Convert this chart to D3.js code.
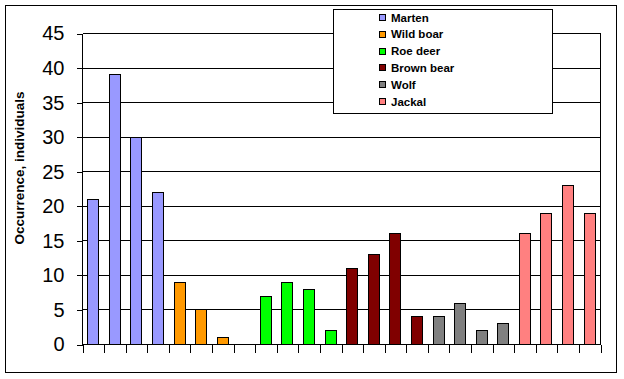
<!DOCTYPE html>
<html><head><meta charset="utf-8">
<script src="https://cdn.jsdelivr.net/npm/d3@7"></script>
<style>
html,body{margin:0;padding:0;background:#fff;}
svg{display:block;font-family:Arial,"Liberation Sans",sans-serif;}
</style></head>
<body>
<svg id="chart" width="624" height="379"></svg>
<script>
const species = ["Marten","Wild boar","Roe deer","Brown bear","Wolf","Jackal"];
const colors = ["#9999FF","#FF9900","#00FF00","#800000","#808080","#FF8080"];
const marten = [21,39,30,22];
const wildBoar = [9,5,1,null];
const roeDeer = [7,9,8,2];
const brownBear = [11,13,16,4];
const wolf = [4,6,2,3];
const jackal = [16,19,23,19];
const yTicks = [0,5,10,15,20,25,30,35,40,45];
const yTitle = "Occurrence, individuals";

const seriesValues = [marten,wildBoar,roeDeer,brownBear,wolf,jackal];
const slots = [];
seriesValues.forEach((vals,si)=>vals.forEach((v,j)=>slots.push({id:si*4+j, s:si, v:v})));

const svg = d3.select("#chart");
const L=82, R=600, T=33, B=344;

// outer border
svg.append("rect").attr("x",5.5).attr("y",5.5).attr("width",611).attr("height",367)
  .attr("fill","#fff").attr("stroke","#000").attr("stroke-width",1);

const x = d3.scaleBand().domain(slots.map(d=>d.id)).range([L,R]).padding(0);
const xb = d3.scaleLinear().domain([0,slots.length]).range([L,R]);
const y = d3.scaleLinear().domain([0,45]).range([B,T]);

const g = svg.append("g").attr("transform","translate(0.5,0.5)").attr("shape-rendering","crispEdges");

// gridlines
g.append("g").selectAll("line").data(yTicks.filter(t=>t>0)).join("line")
  .attr("x1",L).attr("x2",R).attr("y1",d=>Math.round(y(d))).attr("y2",d=>Math.round(y(d)))
  .attr("stroke","#000");
// right border of plot
g.append("line").attr("x1",R).attr("x2",R).attr("y1",Math.round(y(45))).attr("y2",B).attr("stroke","#000");

// bars
const bw = x.bandwidth();
g.append("g").selectAll("rect").data(slots.filter(d=>d.v!=null && d.v>0)).join("rect")
  .attr("x",d=>Math.round(x(d.id)+bw*0.24))
  .attr("width",Math.round(bw*0.52))
  .attr("y",d=>Math.round(y(d.v)))
  .attr("height",d=>B-Math.round(y(d.v)))
  .attr("fill",d=>colors[d.s]).attr("stroke","#000");

// y axis
const yAxis = d3.axisLeft(y).tickValues(yTicks).tickSize(6).tickPadding(12);
const ya = g.append("g").attr("transform",`translate(${L},0)`).call(yAxis);
ya.select(".domain").attr("d",`M0,${Math.round(y(45))}V${B}`).attr("stroke","#000");
ya.selectAll(".tick line").attr("stroke","#000");
ya.selectAll("text").attr("font-size",20).attr("fill","#000").attr("font-family","Arial,'Liberation Sans',sans-serif");

// x axis
const xAxis = d3.axisBottom(xb).tickValues(d3.range(slots.length+1)).tickSize(8).tickFormat("");
const xa = g.append("g").attr("transform",`translate(0,${B})`).call(xAxis);
xa.select(".domain").attr("d",`M${L},0H${R}`).attr("stroke","#000");
xa.selectAll(".tick line").attr("stroke","#000");

// y title
svg.append("text").attr("transform",`translate(24,168) rotate(-90)`)
  .attr("text-anchor","middle").attr("font-size",13.5).attr("font-weight","bold")
  .text(yTitle);

// legend
const lg = svg.append("g");
lg.append("rect").attr("x",333.5).attr("y",9.5).attr("width",219).attr("height",104)
  .attr("fill","#fff").attr("stroke","#000");
const ly = d3.scalePoint().domain(species).range([17.5,101.5]);
const items = lg.selectAll("g.item").data(species).join("g").attr("class","item")
  .attr("transform",d=>`translate(0,${ly(d)})`);
items.append("rect").attr("x",379.5).attr("y",-3).attr("width",6).attr("height",6)
  .attr("fill",(d,i)=>colors[i]).attr("stroke","#000").attr("shape-rendering","crispEdges");
items.append("text").attr("x",391).attr("y",4).attr("font-size",11.5).attr("font-weight","bold")
  .text(d=>d);
</script>
</body></html>
